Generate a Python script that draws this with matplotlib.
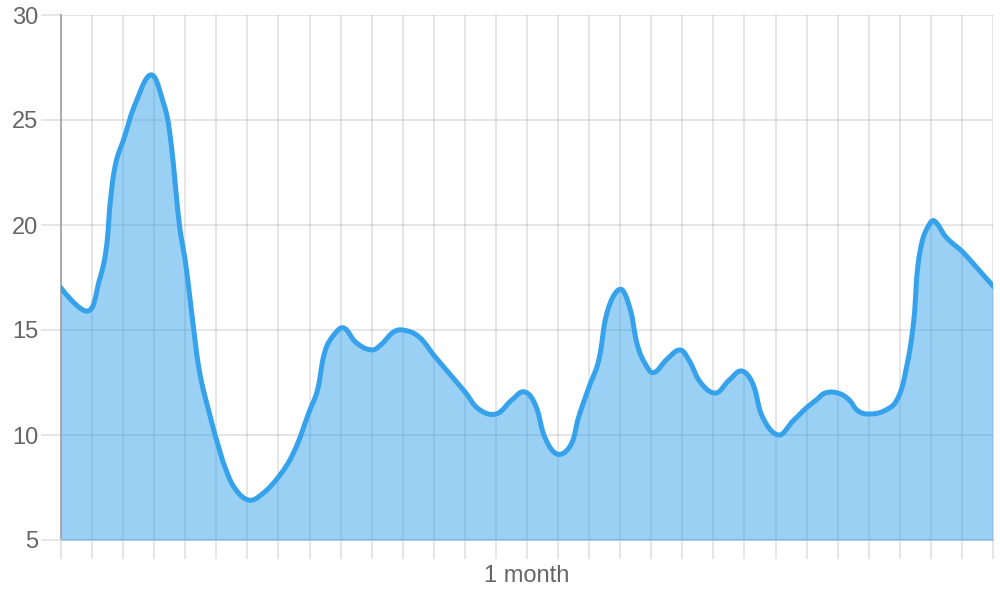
import numpy as np
import matplotlib
matplotlib.use("Agg")
import matplotlib.pyplot as plt

plt.rcParams['font.family'] = ['Liberation Sans', 'DejaVu Sans']

# --- data (x in days, one month window) ---
days = [0, 0.86, 1.24, 1.45, 1.6, 1.77, 2.0, 2.4, 2.9, 3.28, 3.5, 3.82,
        4.0, 4.25, 4.46, 4.78, 5.0, 5.32, 5.65, 6.05, 6.4, 7.0, 7.5, 8.0,
        8.25, 8.5, 8.8, 9.1, 9.5, 10.0, 10.3, 10.7, 11.0, 11.5, 12.0, 12.4,
        13.0, 13.45, 14.0, 14.5, 14.9, 15.25, 15.6, 16.0, 16.4, 16.65,
        17.0, 17.3, 17.6, 18.0, 18.3, 18.55, 18.8, 19.07, 19.5, 19.92, 20.2,
        20.6, 21.07, 21.5, 21.9, 22.25, 22.6, 23.1, 23.55, 24.0, 24.3, 24.6,
        25.0, 25.35, 25.65, 26.0, 26.5, 26.9, 27.2, 27.45, 27.55, 27.7, 27.9,
        28.1, 28.5, 29.0, 29.4, 30.0]
values = [17.0, 15.9, 17.4, 18.8, 21.3, 23.0, 24.0, 25.8, 27.15, 25.9, 24.4,
          19.9, 18.3, 15.3, 13.0, 11.0, 9.8, 8.3, 7.35, 6.9, 7.1, 8.0,
          9.2, 11.15, 12.1, 14.0, 14.8, 15.1, 14.4, 14.05, 14.3, 14.9, 15.0,
          14.7, 13.8, 13.1, 12.06, 11.23, 11.0, 11.65, 12.06, 11.5, 9.8,
          9.08, 9.5, 10.8, 12.3, 13.5, 15.95, 16.94, 16.1, 14.3, 13.4, 12.97,
          13.6, 14.05, 13.6, 12.47, 12.0, 12.6, 13.05, 12.5, 10.8, 10.0, 10.65,
          11.3, 11.65, 12.0, 12.0, 11.7, 11.15, 11.0, 11.15, 11.65, 13.1, 15.45,
          17.6, 19.1, 19.9, 20.2, 19.4, 18.75, 18.1, 17.1]

y_ticks = [5, 10, 15, 20, 25, 30]
x_label_day = 15
x_label = "1 month"

line_color = '#36a2eb'
fill_color = (54 / 255, 162 / 255, 235 / 255, 0.5)
text_color = '#666666'


# --- chart.js style bezier (tension 0.4), control points in pixel space ---
def spline_curve(xs, ys, tension=0.4, sx=31.07, sy=21.0, steps=16):
    p = np.column_stack([np.asarray(xs, float) * sx, np.asarray(ys, float) * sy])
    n = len(p)
    cp_prev = p.copy()
    cp_next = p.copy()
    for i in range(1, n - 1):
        d01 = np.hypot(*(p[i] - p[i - 1]))
        d12 = np.hypot(*(p[i + 1] - p[i]))
        s01 = d01 / (d01 + d12)
        s12 = d12 / (d01 + d12)
        span = p[i + 1] - p[i - 1]
        cp_prev[i] = p[i] - tension * s01 * span
        cp_next[i] = p[i] + tension * s12 * span
    pts = []
    t = np.linspace(0, 1, steps, endpoint=False)[:, None]
    for i in range(n - 1):
        a, b, c, d = p[i], cp_next[i], cp_prev[i + 1], p[i + 1]
        pts.append((1 - t)**3 * a + 3 * (1 - t)**2 * t * b + 3 * (1 - t) * t**2 * c + t**3 * d)
    pts.append(p[-1:])
    pts = np.vstack(pts)
    return pts[:, 0] / sx, pts[:, 1] / sy


xd, yd = spline_curve(days, values)

fig, ax = plt.subplots(figsize=(10, 6), dpi=100)
fig.subplots_adjust(left=0.061, right=0.993, bottom=0.1, top=0.975)

ax.fill_between(xd, yd, y_ticks[0], color=fill_color, lw=0, zorder=2)
ax.plot(xd, yd, color=line_color, lw=3.6, zorder=3, solid_joinstyle='round')

ax.set_xlim(0, 30)
ax.set_ylim(y_ticks[0], y_ticks[-1])
ax.set_xticks(range(31))
ax.set_xticklabels([x_label if i == x_label_day else '' for i in range(31)])
ax.set_yticks(y_ticks)
ax.set_yticklabels([str(v) for v in y_ticks])

ax.set_axisbelow(True)
ax.grid(True, color='black', alpha=0.1, lw=1.4)
ax.tick_params(axis='x', length=14, width=1.4, color='#e6e6e6', pad=4,
               labelsize=17, labelcolor=text_color)
ax.tick_params(axis='y', length=14.5, width=1.4, color='#e6e6e6', pad=2,
               labelsize=17, labelcolor=text_color)

for side in ('top', 'right'):
    ax.spines[side].set_visible(False)
ax.spines['left'].set_color('#aaaaaa')
ax.spines['left'].set_linewidth(1.4)
ax.spines['bottom'].set_color('#d6d6d6')
ax.spines['bottom'].set_linewidth(1.4)
for side in ('left', 'bottom'):
    ax.spines[side].set_zorder(1.5)

fig.savefig('out.png', dpi=100)
